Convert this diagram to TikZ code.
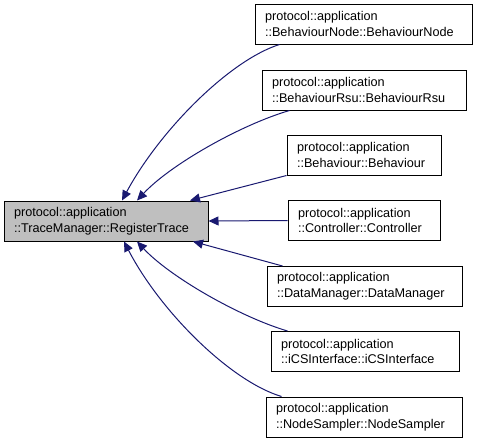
\documentclass[tikz,border=0pt]{standalone}
\usepackage{fontspec}
\setmainfont{Liberation Sans}
\usetikzlibrary{arrows.meta}
\definecolor{edgeblue}{HTML}{191970}
\definecolor{maingray}{HTML}{BFBFBF}

\begin{document}
\begin{tikzpicture}[x=0.75pt,y=-0.75pt,
    fn/.style={draw=black, line width=0.75pt, align=left, text width=#1,
        inner xsep=7.5pt, minimum height=30pt, font=\fontsize{9.5}{11.8}\selectfont},
    call/.style={draw=edgeblue, line width=0.75pt,
        -{Triangle[length=7.5pt,width=6.75pt]}}]
                \useasboundingbox (0,0) rectangle (477,443);
                % the traced function
                \node[fn=138pt, fill=maingray] (main) at (106,221) {protocol::application\\::TraceManager::RegisterTrace};
                % its callers
                \node[fn=147.75pt] (n1) at (363.5,24) {protocol::application\\::BehaviourNode::BehaviourNode};
                \node[fn=138pt] (n2) at (364,90) {protocol::application\\::BehaviourRsu::BehaviourRsu};
                \node[fn=100.5pt] (n3) at (364,155) {protocol::application\\::Behaviour::Behaviour};
                \node[fn=99pt] (n4) at (364,220.5) {protocol::application\\::Controller::Controller};
                \node[fn=131.25pt] (n5) at (364.5,286.5) {protocol::application\\::DataManager::DataManager};
                \node[fn=126pt] (n6) at (365,351.5) {protocol::application\\::iCSInterface::iCSInterface};
                \node[fn=132pt] (n7) at (364,417) {protocol::application\\::NodeSampler::NodeSampler};
                % calls
                \draw[call] ([xshift=18.75pt]n1.south west) .. controls (230,60) and (160,130) .. ([xshift=12pt]main.north);
                \draw[call] ([xshift=21pt]n2.south west) .. controls (240,125) and (170,165) .. ([xshift=23.25pt]main.north);
                \draw[call] (n3.south west) -- ([xshift=63pt]main.north);
                \draw[call] (n4.west) -- (main.east);
                \draw[call] ([xshift=12pt]n5.north west) -- ([xshift=65.25pt]main.south);
                \draw[call] ([xshift=12.75pt]n6.north west) .. controls (240,317) and (170,277) .. ([xshift=23.25pt]main.south);
                \draw[call] ([xshift=12pt]n7.north west) .. controls (230,381) and (160,311) .. ([xshift=13.5pt]main.south);
            \end{tikzpicture}
\end{document}
